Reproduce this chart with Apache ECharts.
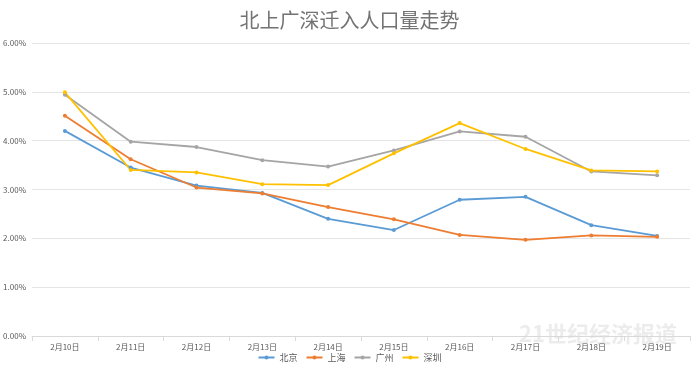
<!DOCTYPE html>
<html><head><meta charset="utf-8">
<style>html,body{margin:0;padding:0;background:#fff}#c{width:699px;height:373px}</style>
<script src="https://cdn.jsdelivr.net/npm/echarts@6/dist/echarts.min.js"></script>
</head><body><div id="c"></div>
<script>
const categories = ['2月10日','2月11日','2月12日','2月13日','2月14日','2月15日','2月16日','2月17日','2月18日','2月19日'];
const beijing  = [4.20, 3.45, 3.08, 2.93, 2.40, 2.17, 2.79, 2.85, 2.27, 2.05];
const shanghai = [4.51, 3.62, 3.04, 2.92, 2.64, 2.39, 2.07, 1.97, 2.06, 2.03];
const guangzhou= [4.94, 3.98, 3.87, 3.60, 3.47, 3.80, 4.19, 4.08, 3.37, 3.29];
const shenzhen = [4.99, 3.40, 3.35, 3.11, 3.09, 3.74, 4.36, 3.83, 3.39, 3.37];
const seriesNames = ['北京','上海','广州','深圳'];
const colors = ['#5B9BD5','#ED7D31','#A5A5A5','#FFC000'];
const font = '"Noto Sans CJK SC","Microsoft YaHei",sans-serif';
const chart = echarts.init(document.getElementById('c'));
const mk = (name, data, i) => ({
  name, type:'line', data, symbol:'circle', symbolSize:4,
  lineStyle:{width:1.8,color:colors[i]}, itemStyle:{color:colors[i]}
});
chart.setOption({
  animation:false,
  title:{text:'北上广深迁入人口量走势',left:'center',top:5,
    textStyle:{fontFamily:font,fontSize:20,fontWeight:'normal',color:'#737373'}},
  legend:{bottom:6,left:'center',itemWidth:16,itemHeight:5,itemGap:8,
    textStyle:{fontFamily:font,fontSize:9,color:'#595959'},data:seriesNames},
  grid:{left:32,right:9,top:43,bottom:37},
  xAxis:{type:'category',data:categories,boundaryGap:true,
    axisLine:{lineStyle:{color:'#D9D9D9'}},axisTick:{show:true,lineStyle:{color:'#D9D9D9'}},
    axisLabel:{fontFamily:font,fontSize:8,color:'#595959',margin:7}},
  yAxis:{type:'value',min:0,max:6,interval:1,
    axisLine:{show:false},axisTick:{show:false},
    splitLine:{lineStyle:{color:'#E5E5E5'}},
    axisLabel:{fontFamily:font,fontSize:8,color:'#595959',margin:6,
      formatter:v=>v.toFixed(2)+'%'}},
  graphic:[{type:'text',right:22,bottom:28,
    style:{text:'21世纪经济报道',fontFamily:font,fontSize:22,fontWeight:'bold',fill:'rgba(200,200,200,0.35)'}}],
  series:[mk('北京',beijing,0),mk('上海',shanghai,1),mk('广州',guangzhou,2),mk('深圳',shenzhen,3)]
});
</script></body></html>
